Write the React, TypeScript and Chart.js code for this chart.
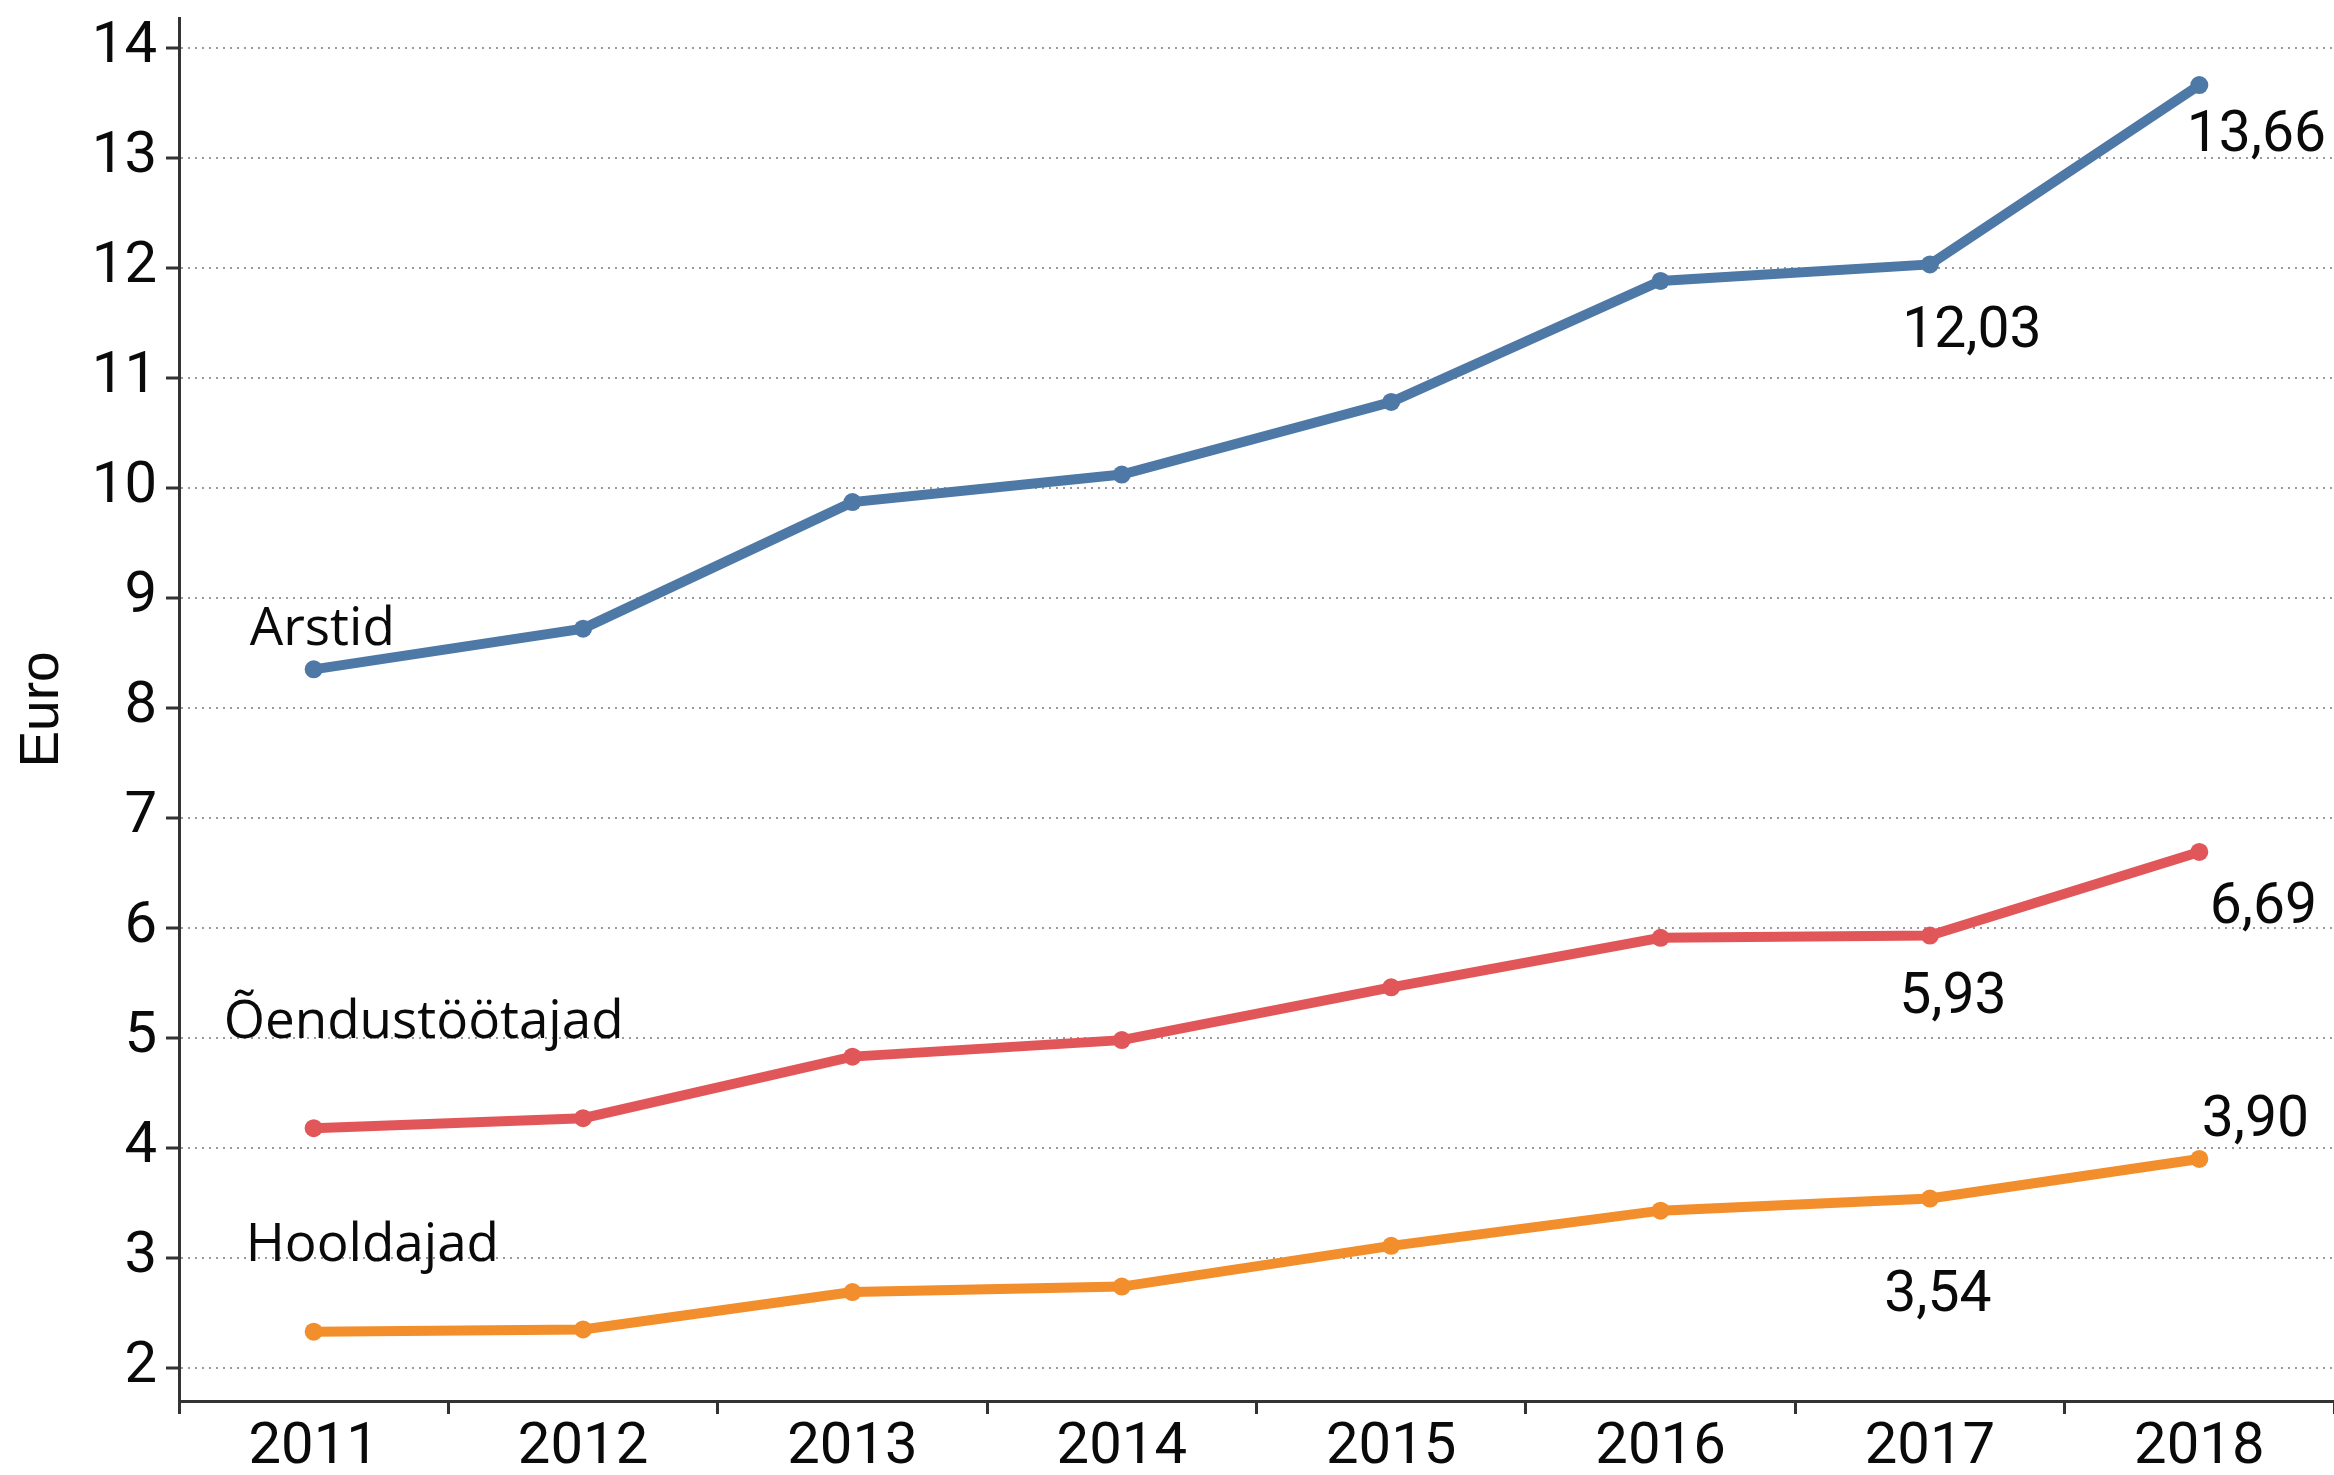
import React, { useEffect, useRef } from "react";
import { Chart, registerables } from "chart.js";

Chart.register(...registerables);

const years = ["2011", "2012", "2013", "2014", "2015", "2016", "2017", "2018"];
const arstid = [8.35, 8.72, 9.87, 10.12, 10.78, 11.88, 12.03, 13.66];
const oendustootajad = [4.18, 4.27, 4.83, 4.98, 5.46, 5.91, 5.93, 6.69];
const hooldajad = [2.33, 2.35, 2.69, 2.74, 3.11, 3.43, 3.54, 3.9];
const seriesNames = ["Arstid", "Õendustöötajad", "Hooldajad"];
const yTickValues = [2, 3, 4, 5, 6, 7, 8, 9, 10, 11, 12, 13, 14];
const labelledIndices = [6, 7];
const yTitle = "Euro";

const seriesColors = ["#4e79a7", "#e15759", "#f28e2b"];

// pixel offsets of text annotations relative to their data point
const nameOffsets = [
  { dx: -64, dy: -24 },
  { dx: -90, dy: -90 },
  { dx: -68, dy: -71 },
];
const valueOffsets = [
  [{ dx: 42, dy: 83 }, { dx: 57, dy: 66 }],
  [{ dx: 23, dy: 77 }, { dx: 64, dy: 71 }],
  [{ dx: 8, dy: 112 }, { dx: 56, dy: -23 }],
];

const W = 2334;
const H = 1475;

const annotationPlugin = {
  id: "annotations",
  afterDatasetsDraw(chart: any) {
    const ctx = chart.ctx;
    ctx.save();
    ctx.fillStyle = "#0a0a0a";
    chart.data.datasets.forEach((ds: any, i: number) => {
      const meta = chart.getDatasetMeta(i);
      const first = meta.data[0];
      ctx.font = "53px 'Open Sans'";
      ctx.textAlign = "left";
      ctx.textBaseline = "alphabetic";
      ctx.fillText(seriesNames[i], first.x + nameOffsets[i].dx, first.y + nameOffsets[i].dy);
      ctx.font = "57px Roboto";
      ctx.textAlign = "center";
      labelledIndices.forEach((idx, k) => {
        const pt = meta.data[idx];
        const v = ds.data[idx] as number;
        const txt = v.toFixed(2).replace(".", ",");
        ctx.fillText(txt, pt.x + valueOffsets[i][k].dx, pt.y + valueOffsets[i][k].dy);
      });
    });
    ctx.restore();
  },
};

export default function App() {
  const ref = useRef<HTMLCanvasElement | null>(null);

  useEffect(() => {
    if (!ref.current) return;
    const seriesData = [arstid, oendustootajad, hooldajad];
    const chart = new Chart(ref.current, {
      type: "line",
      data: {
        labels: years,
        datasets: seriesData.map((d, i) => ({
          label: seriesNames[i],
          data: d,
          borderColor: seriesColors[i],
          backgroundColor: seriesColors[i],
          pointBackgroundColor: seriesColors[i],
          pointBorderWidth: 0,
          pointRadius: 9,
          borderWidth: 10,
          tension: 0,
          fill: false,
        })),
      },
      options: {
        responsive: false,
        animation: false,
        layout: { autoPadding: false, padding: { top: 18, left: 0, right: 0, bottom: 0 } },
        plugins: {
          legend: { display: false },
          tooltip: { enabled: false },
        },
        scales: {
          x: {
            type: "category",
            offset: true,
            grid: {
              display: true,
              offset: true,
              drawOnChartArea: false,
              drawTicks: true,
              tickLength: 13,
              color: "#333333",
              lineWidth: 3,
              tickColor: "#333333",
              tickWidth: 3,
            },
            border: { display: true, color: "#333333", width: 3 },
            ticks: {
              font: { family: "Roboto", size: 58 },
              color: "#0a0a0a",
              padding: 0,
              maxRotation: 0,
              autoSkip: false,
            },
            afterFit: (s: any) => {
              s.height = 74;
              s.paddingLeft = 0;
              s.paddingRight = 0;
            },
          },
          y: {
            min: 1.7,
            max: 14.27,
            afterBuildTicks: (s: any) => {
              s.ticks = yTickValues.map((v) => ({ value: v }));
            },
            grid: {
              display: true,
              drawOnChartArea: true,
              drawTicks: true,
              tickLength: 13,
              color: "#9a9a9a",
              lineWidth: 2,
              tickColor: "#333333",
              tickWidth: 3,
              tickBorderDash: [],
            },
            border: { display: true, color: "#333333", width: 3, dash: [2, 5] },
            ticks: {
              font: { family: "Roboto", size: 58 },
              color: "#0a0a0a",
              padding: 9,
              autoSkip: false,
            },
            title: {
              display: true,
              text: yTitle,
              font: { family: "'Liberation Sans'", size: 55 },
              color: "#0a0a0a",
              padding: { top: 10, bottom: 0 },
            },
            afterFit: (s: any) => {
              s.width = 179;
              s.paddingTop = 0;
              s.paddingBottom = 0;
            },
          },
        },
      },
      plugins: [annotationPlugin],
    });
    return () => chart.destroy();
  }, []);

  return (
    <div style={{ position: "absolute", left: 0, top: 0, width: W, height: H, background: "#ffffff" }}>
      <canvas ref={ref} width={W} height={H} style={{ display: "block" }} />
    </div>
  );
}
